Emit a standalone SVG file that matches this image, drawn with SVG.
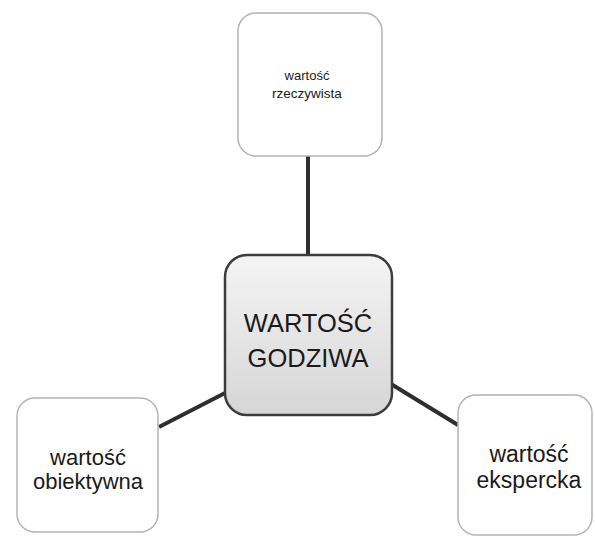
<svg xmlns="http://www.w3.org/2000/svg" width="595" height="538" viewBox="0 0 595 538">
<style>
.box{fill:#ffffff;stroke:#b4b4b4;stroke-width:1.5}
.conn{stroke:#2e2e2e;stroke-width:4;stroke-linecap:butt;fill:none}
text{font-family:"Liberation Sans",Arial,sans-serif;fill:#1a1a1a;text-anchor:middle}
</style>
<defs>
<linearGradient id="g" x1="0" y1="0" x2="0" y2="1">
<stop offset="0" stop-color="#f4f4f4"/>
<stop offset="1" stop-color="#d6d6d6"/>
</linearGradient>
</defs>
<rect width="595" height="538" fill="#ffffff"/>
<g id="connectors">
<line class="conn" x1="308" y1="156" x2="308" y2="256"/>
<line class="conn" x1="159" y1="427" x2="227" y2="392"/>
<line class="conn" x1="391" y1="384" x2="458" y2="425"/>
</g>
<g id="top">
<rect class="box" x="238" y="13" width="144" height="143" rx="18"/>
<text x="307" y="80" font-size="13">wartość</text>
<text x="307" y="98" font-size="13.5">rzeczywista</text>
</g>
<g id="center">
<rect x="225" y="255" width="167" height="160" rx="22" fill="url(#g)" stroke="#3c3c3c" stroke-width="2.5"/>
<text x="308" y="332" font-size="25.5">WARTOŚĆ</text>
<text x="308" y="367" font-size="25.5">GODZIWA</text>
</g>
<g id="left">
<rect class="box" x="17" y="398" width="141" height="134" rx="18"/>
<text x="88" y="465" font-size="22">wartość</text>
<text x="88" y="489" font-size="22">obiektywna</text>
</g>
<g id="right">
<rect class="box" x="458" y="395" width="134" height="140" rx="18"/>
<text x="529" y="462" font-size="23">wartość</text>
<text x="529" y="488" font-size="23">ekspercka</text>
</g>
</svg>
